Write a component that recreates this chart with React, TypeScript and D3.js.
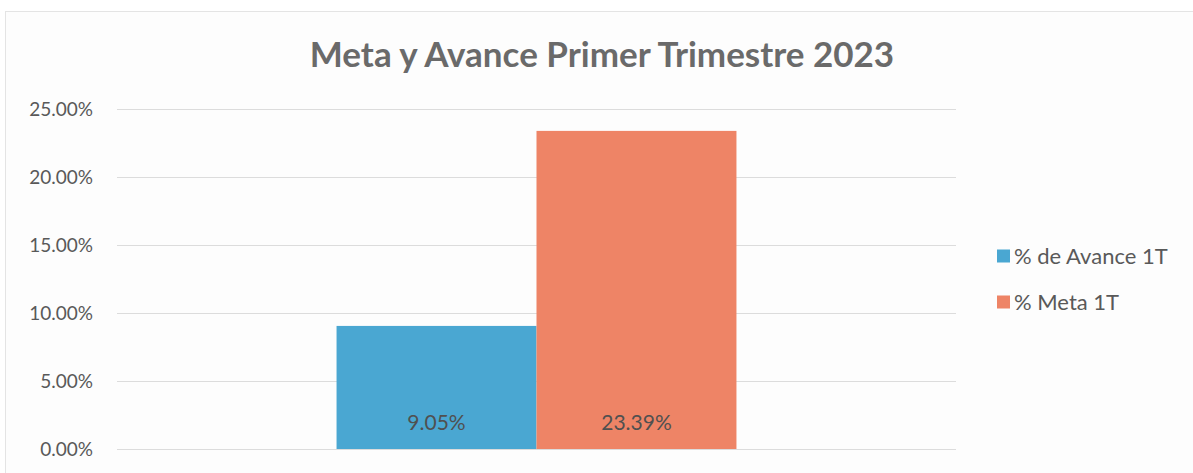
import {useEffect, useRef} from "react";
import * as d3 from "d3";

const categories = ["1T"];
const seriesNames = ["% de Avance 1T", "% Meta 1T"];
const seriesValues = [9.05, 23.39];
const seriesColors = ["#4aa7d2", "#ee8466"];
const yTicks = [0, 5, 10, 15, 20, 25];
const title = "Meta y Avance Primer Trimestre 2023";

const App = () => {
    const svgRef = useRef<SVGSVGElement | null>(null);

    useEffect(() => {
        const width = 1193;
        const height = 473;
        const margin = {top: 109, right: 237, bottom: 24, left: 117};
        const innerW = width - margin.left - margin.right;
        const innerH = height - margin.top - margin.bottom;
        const font = "Lato, 'Open Sans', sans-serif";

        const root = d3.select(svgRef.current)
            .attr("width", width)
            .attr("height", height);
        root.selectAll("*").remove();

        // chart frame
        root.append("rect")
            .attr("x", 5.5)
            .attr("y", 11.5)
            .attr("width", width + 10)
            .attr("height", height + 10)
            .attr("fill", "#fdfdfd")
            .attr("stroke", "#e4e4e4");

        // title is centred on the whole chart area, not on the plot
        root.append("text")
            .attr("x", 602)
            .attr("y", 67)
            .attr("text-anchor", "middle")
            .attr("font-family", font)
            .attr("font-weight", "bold")
            .attr("font-size", "35px")
            .attr("fill", "#6a6a6a")
            .text(title);

        const svg = root.append("g")
            .attr("transform", `translate(${margin.left},${margin.top})`);

        const yScale = d3.scaleLinear().domain([0, 25]).range([innerH, 0]);
        const xScale = d3.scaleBand().domain(categories).range([0, innerW]).paddingOuter(0.549);
        const sub = d3.scaleBand().domain(seriesNames).range([0, xScale.bandwidth()]);

        // gridlines
        svg.append("g")
            .selectAll("line")
            .data(yTicks)
            .enter()
            .append("line")
            .attr("x1", 0)
            .attr("x2", innerW)
            .attr("y1", (d) => yScale(d) + 0.5)
            .attr("y2", (d) => yScale(d) + 0.5)
            .attr("stroke", "#dcdcdc")
            .attr("stroke-width", 1);

        const yAxis = svg.append("g")
            .call(d3.axisLeft(yScale).tickValues(yTicks).tickSize(0).tickPadding(24)
                .tickFormat((d) => `${(+d).toFixed(2)}%`));
        yAxis.select(".domain").remove();
        yAxis.selectAll("text")
            .attr("font-family", font)
            .attr("font-size", "19px")
            .attr("fill", "#595959");

        const data = seriesNames.map((name, i) => ({name, value: seriesValues[i], color: seriesColors[i]}));
        const group = svg.append("g").attr("transform", `translate(${xScale(categories[0])},0)`);

        group.selectAll("rect")
            .data(data)
            .enter()
            .append("rect")
            .attr("x", (d) => sub(d.name) as number)
            .attr("y", (d) => yScale(d.value))
            .attr("width", sub.bandwidth())
            .attr("height", (d) => innerH - yScale(d.value))
            .attr("fill", (d) => d.color);

        group.selectAll(".lbl")
            .data(data)
            .enter()
            .append("text")
            .attr("class", "lbl")
            .attr("x", (d) => (sub(d.name) as number) + sub.bandwidth() / 2)
            .attr("y", innerH - 19)
            .attr("text-anchor", "middle")
            .attr("font-family", font)
            .attr("font-size", "21px")
            .attr("fill", "#505050")
            .text((d) => `${d.value.toFixed(2)}%`);

        // legend
        const legend = root.append("g").attr("transform", "translate(997,256)");
        const item = legend.selectAll("g")
            .data(data)
            .enter()
            .append("g")
            .attr("transform", (_d, i) => `translate(0,${i * 46})`);
        item.append("rect")
            .attr("x", 0)
            .attr("y", -6.5)
            .attr("width", 13)
            .attr("height", 13)
            .attr("fill", (d) => d.color);
        item.append("text")
            .attr("x", 17)
            .attr("y", 0)
            .attr("dy", "0.35em")
            .attr("font-family", font)
            .attr("font-size", "22px")
            .attr("fill", "#595959")
            .text((d) => d.name);
    }, []);

    return <svg ref={svgRef} style={{position: "absolute", left: 0, top: 0}}></svg>;
};

export default App;
